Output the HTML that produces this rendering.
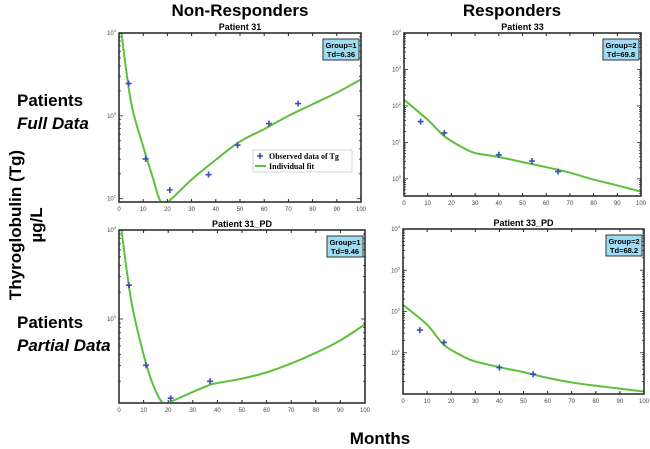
<!DOCTYPE html>
<html><head><meta charset="utf-8"><style>
body{margin:0;background:#fff;}
svg{display:block;font-family:"Liberation Sans",sans-serif;}
</style></head><body>
<svg id="c" width="650" height="449">
<text x="240" y="16" font-size="17" font-weight="bold" text-anchor="middle">Non-Responders</text>
<text x="512" y="16" font-size="17" font-weight="bold" text-anchor="middle">Responders</text>
<text x="17" y="106" font-size="17" font-weight="bold">Patients</text>
<text x="17" y="129" font-size="17" font-weight="bold" font-style="italic">Full Data</text>
<text x="17" y="328" font-size="17" font-weight="bold">Patients</text>
<text x="17" y="351" font-size="17" font-weight="bold" font-style="italic">Partial Data</text>
<text transform="translate(21,225) rotate(-90)" font-size="17" font-weight="bold" text-anchor="middle">Thyroglobulin (Tg)</text>
<text transform="translate(42,225) rotate(-90)" font-size="17" font-weight="bold" text-anchor="middle">µg/L</text>
<text x="380" y="444" font-size="17" font-weight="bold" text-anchor="middle">Months</text>
</svg>
<script>
// Panel data (log10 values)
const p1PtsX=[4,11,21,37,49,62,74];
const p1PtsY=[3.39,2.48,2.105,2.29,2.646,2.906,3.148];
const p1FitX=[1,5,10,14,16,18,21,30,40,50,60,70,80,90,100];
const p1FitY=[4.0,3.16,2.63,2.25,2.05,1.94,1.98,2.23,2.47,2.69,2.84,3.0,3.14,3.28,3.44];
const p2PtsX=[7,17,40,54,65];
const p2PtsY=[1.57,1.26,0.66,0.49,0.20];
const p2FitX=[0,10,17,25,30,40,50,60,70,80,90,100];
const p2FitY=[2.17,1.62,1.17,0.85,0.71,0.60,0.46,0.32,0.17,-0.02,-0.18,-0.35];
const p3PtsX=[4,11,21,37];
const p3PtsY=[3.38,2.48,2.11,2.30];
const p3FitX=[1,5,10,14,18,21,30,37,40,50,60,70,80,90,100];
const p3FitY=[4.0,3.2,2.6,2.25,2.05,2.07,2.18,2.26,2.28,2.33,2.40,2.50,2.62,2.76,2.94];
const p4PtsX=[7,17,40,54];
const p4PtsY=[1.55,1.25,0.64,0.48];
const p4FitX=[0,10,17,25,30,40,50,60,70,80,90,100];
const p4FitY=[2.16,1.68,1.19,0.91,0.79,0.65,0.53,0.39,0.28,0.20,0.13,0.06];
const xTicks=[0,10,20,30,40,50,60,70,80,90,100];

const NS="http://www.w3.org/2000/svg";
const svg=document.getElementById('c');
function mk(tag,attrs,parent){const e=document.createElementNS(NS,tag);for(const k in attrs)e.setAttribute(k,attrs[k]);(parent||svg).appendChild(e);return e;}
const defs=mk('defs',{});

const panels=[
 {name:'patient-31',title:'Patient 31',x0:119,x1:361,top:33,bot:202,ymax:4,ymin:1.96,decs:[2,3,4],px:p1PtsX,py:p1PtsY,fx:p1FitX,fy:p1FitY,g:'Group=1',td:'Td=6.36',legend:true},
 {name:'patient-33',title:'Patient 33',x0:404,x1:641,top:33,bot:196,ymax:4,ymin:-0.47,decs:[0,1,2,3,4],px:p2PtsX,py:p2PtsY,fx:p2FitX,fy:p2FitY,g:'Group=2',td:'Td=69.8'},
 {name:'patient-31-pd',title:'Patient 31_PD',x0:119,x1:365,top:230,bot:403,ymax:4,ymin:2.056,decs:[3,4],px:p3PtsX,py:p3PtsY,fx:p3FitX,fy:p3FitY,g:'Group=1',td:'Td=9.46'},
 {name:'patient-33-pd',title:'Patient 33_PD',x0:403,x1:644,top:229,bot:394,ymax:4,ymin:0,decs:[1,2,3,4],px:p4PtsX,py:p4PtsY,fx:p4FitX,fy:p4FitY,g:'Group=2',td:'Td=68.2'}
];
panels.forEach((p,pi)=>{
 const g=mk('g',{});
 
 
 const sx=v=>p.x0+(v/100)*(p.x1-p.x0);
 const sy=v=>p.bot-(v-p.ymin)/(p.ymax-p.ymin)*(p.bot-p.top);
 const cp=mk('clipPath',{id:'clip'+pi},defs);
 mk('rect',{x:p.x0,y:p.top,width:p.x1-p.x0,height:p.bot-p.top-1},cp);
 const t=mk('text',{x:(p.x0+p.x1)/2,y:p.top-3,'font-size':9,'font-weight':'bold','text-anchor':'middle'},g);t.textContent=p.title;
 
 
 xTicks.forEach(v=>{const X=sx(v);
  mk('line',{x1:X,x2:X,y1:p.bot,y2:p.bot-3,stroke:'#222','stroke-width':1},g);
  mk('line',{x1:X,x2:X,y1:p.top,y2:p.top+3,stroke:'#222','stroke-width':1},g);
  const l=mk('text',{x:X,y:p.bot+9,'font-size':6,'text-anchor':'middle',fill:'#444'},g);l.textContent=v;
  
  
 });
 for(let d=Math.floor(p.ymin);d<p.ymax;d++){for(let m=1;m<10;m++){const v=d+Math.log10(m);if(v<p.ymin||v>p.ymax)continue;const Y=sy(v);const len=m==1?4:2;
  mk('line',{x1:p.x0,x2:p.x0+len,y1:Y,y2:Y,stroke:'#222','stroke-width':0.8},g);
  mk('line',{x1:p.x1,x2:p.x1-len,y1:Y,y2:Y,stroke:'#222','stroke-width':0.8},g);}}
 p.decs.forEach(d=>{const Y=sy(d);const l=mk('text',{x:p.x0-3,y:Y+2,'font-size':6,'text-anchor':'end',fill:'#444'},g);l.textContent='10';
  const s=mk('tspan',{dy:-3,'font-size':4},l);s.textContent=d;
  
  });
 const P=p.fx.map((v,i)=>[sx(v),sy(p.fy[i])]);
 let d='M'+P[0][0]+','+P[0][1];
 for(let i=0;i<P.length-1;i++){const a=P[Math.max(0,i-1)],b=P[i],c=P[i+1],e=P[Math.min(P.length-1,i+2)];
  d+=` C${b[0]+(c[0]-a[0])/6},${b[1]+(c[1]-a[1])/6} ${c[0]-(e[0]-b[0])/6},${c[1]-(e[1]-b[1])/6} ${c[0]},${c[1]}`;}
 const fit=mk('path',{d:d,fill:'none',stroke:'#5cc13a','stroke-width':2,'clip-path':'url(#clip'+pi+')'},g);
 
 
 mk('rect',{x:p.x0,y:p.top,width:p.x1-p.x0,height:p.bot-p.top,fill:'none',stroke:'#222','stroke-width':1.5},g);
 p.px.forEach((v,i)=>{const X=sx(v),Y=sy(p.py[i]);
  const m=mk('path',{d:`M${X-3},${Y}H${X+3}M${X},${Y-3}V${Y+3}`,stroke:'#3a4fb5','stroke-width':1.6},g);
  
  });
 const bx=p.x1-38,by=p.top+6;
 const r=mk('rect',{x:bx,y:by,width:36,height:21,fill:'#9ddcf2',stroke:'#333','stroke-width':1},g);
 
 
 const t1=mk('text',{x:bx+18,y:by+9,'font-size':7.5,'font-weight':'bold','text-anchor':'middle'},g);t1.textContent=p.g;
 const t2=mk('text',{x:bx+18,y:by+18,'font-size':7.5,'font-weight':'bold','text-anchor':'middle'},g);t2.textContent=p.td;
 if(p.legend){
  const lg=mk('g',{},g);
  
  
  mk('rect',{x:253,y:150,width:99,height:22,fill:'#fff',stroke:'#ccc','stroke-width':0.8},lg);
  mk('path',{d:'M257,156H263M260,153V159',stroke:'#3a4fb5','stroke-width':1.6},lg);
  const a=mk('text',{x:269,y:159,'font-size':8,'font-weight':'bold','font-family':'Liberation Serif'},lg);a.textContent='Observed data of Tg';
  mk('line',{x1:255,x2:266,y1:166,y2:166,stroke:'#5cc13a','stroke-width':2},lg);
  const b=mk('text',{x:269,y:169,'font-size':8,'font-weight':'bold','font-family':'Liberation Serif'},lg);b.textContent='Individual fit';
 }
});
</script>
</body></html>
